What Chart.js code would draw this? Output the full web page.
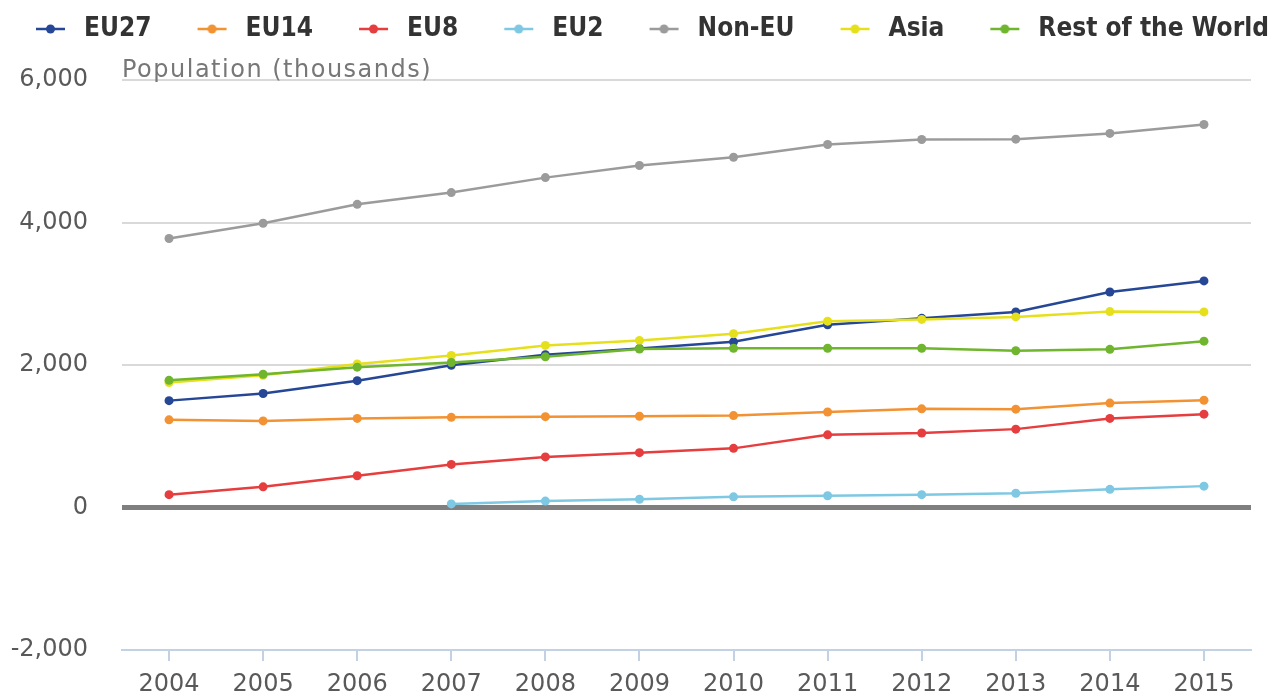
<!DOCTYPE html>
<html>
<head>
<meta charset="utf-8">
<script src="https://cdn.jsdelivr.net/npm/chart.js@4.4.1/dist/chart.umd.min.js"></script>
<style>
  html, body { margin: 0; padding: 0; background: #fff; }
  #wrap { width: 1282px; height: 693px; position: relative; }
</style>
</head>
<body>
<div id="wrap"><canvas id="chart"></canvas></div>
<script>
// years on the x axis
const years = ['2004','2005','2006','2007','2008','2009','2010','2011','2012','2013','2014','2015'];
// population, thousands
const eu27  = [1500, 1600, 1780, 1995, 2145, 2230, 2325, 2565, 2655, 2745, 3025, 3180];
const eu14  = [1230, 1215, 1250, 1265, 1275, 1280, 1290, 1340, 1385, 1380, 1465, 1505];
const eu8   = [180, 290, 445, 605, 710, 770, 830, 1020, 1045, 1100, 1250, 1310];
const eu2   = [null, null, null, 50, 90, 115, 150, 165, 180, 200, 255, 300];
const nonEu = [3775, 3990, 4255, 4420, 4630, 4800, 4915, 5095, 5165, 5170, 5250, 5375];
const asia  = [1755, 1855, 2015, 2135, 2275, 2345, 2440, 2615, 2640, 2675, 2750, 2745];
const rest  = [1785, 1870, 1970, 2035, 2115, 2225, 2235, 2235, 2235, 2200, 2220, 2335];

const seriesNames = ['EU27', 'EU14', 'EU8', 'EU2', 'Non-EU', 'Asia', 'Rest of the World'];
const seriesData = [eu27, eu14, eu8, eu2, nonEu, asia, rest];
const seriesColors = ['#264796', '#f39232', '#e63e3e', '#7ec8e3', '#9b9b9b', '#e6e01c', '#6fb52e'];

const yTicks = [-2000, 0, 2000, 4000, 6000];

// legend marker: short line with a dot, right part of the box
function marker(color) {
  const c = document.createElement('canvas');
  c.width = 81; c.height = 14;
  const g = c.getContext('2d');
  g.strokeStyle = color;
  g.lineWidth = 2.5;
  g.beginPath(); g.moveTo(46, 7); g.lineTo(75, 7); g.stroke();
  g.fillStyle = color;
  g.beginPath(); g.arc(60.5, 7, 4.5, 0, Math.PI * 2); g.fill();
  return c;
}

const datasets = seriesNames.map(function(name, i) {
  return {
    label: name,
    data: seriesData[i],
    borderColor: seriesColors[i],
    backgroundColor: seriesColors[i],
    borderWidth: 2.5,
    pointRadius: 4.5,
    pointBorderWidth: 0,
    pointHoverRadius: 4.5,
    tension: 0,
    spanGaps: false,
    order: seriesNames.length - i
  };
});

// extra room under the legend
const legendSpace = {
  id: 'legendSpace',
  beforeInit(chart) {
    const fit = chart.legend.fit;
    chart.legend.fit = function() {
      fit.call(this);
      this.height += 28;
    };
  }
};

// unit label above the plot
const unitLabel = {
  id: 'unitLabel',
  afterDraw(chart) {
    const ctx = chart.ctx;
    const a = chart.chartArea;
    ctx.save();
    ctx.font = '24px "DejaVu Sans"';
    ctx.letterSpacing = '1.5px';
    ctx.fillStyle = '#777777';
    ctx.textAlign = 'left';
    ctx.textBaseline = 'alphabetic';
    ctx.fillText('Population (thousands)', a.left, a.top - 3);
    ctx.restore();
  }
};

const tickFont = { family: '"DejaVu Sans"', size: 24 };

new Chart(document.getElementById('chart'), {
  type: 'line',
  data: { labels: years, datasets: datasets },
  options: {
    responsive: true,
    maintainAspectRatio: false,
    animation: false,
    layout: { autoPadding: false, padding: { top: 16, left: -10, right: 0, bottom: 0 } },
    plugins: {
      tooltip: { enabled: false },
      legend: {
        position: 'top',
        align: 'start',
        labels: {
          usePointStyle: true,
          pointStyleWidth: 81,
          padding: 0,
          font: { family: '"DejaVu Sans Condensed"', size: 26, weight: 'bold' },
          color: '#333333',
          generateLabels: function(chart) {
            return chart.data.datasets.map(function(ds, i) {
              return {
                text: ds.label,
                pointStyle: marker(ds.borderColor),
                datasetIndex: i,
                hidden: false,
                fontColor: '#333333',
                fillStyle: 'rgba(0,0,0,0)',
                strokeStyle: 'rgba(0,0,0,0)',
                lineWidth: 0
              };
            });
          }
        }
      }
    },
    scales: {
      x: {
        offset: true,
        afterFit(scale) { scale.height = 43; },
        grid: {
          display: true,
          offset: false,
          drawOnChartArea: false,
          drawTicks: true,
          tickLength: 11,
          color: '#c3d1e5',
          lineWidth: 2
        },
        border: { display: true, color: '#c3d1e5', width: 2 },
        ticks: { font: tickFont, color: '#595959', padding: 9, maxRotation: 0 }
      },
      y: {
        min: -2000,
        max: 6000,
        afterFit(scale) {
          scale.width = 132;
          scale.paddingTop = 14;
          scale.paddingBottom = 14;
        },
        afterBuildTicks(scale) { scale.ticks = yTicks.map(v => ({ value: v })); },
        grid: {
          drawTicks: false,
          color: ctx => ctx.tick.value === 0 ? '#7f7f7f' : (ctx.tick.value === -2000 ? 'rgba(0,0,0,0)' : '#d9d9d9'),
          lineWidth: ctx => ctx.tick.value === 0 ? 5 : 2
        },
        border: { display: false },
        ticks: {
          font: tickFont,
          color: '#595959',
          padding: 34,
          callback: v => v.toLocaleString('en-US')
        }
      },
      yRight: {
        position: 'right',
        display: true,
        afterFit(scale) { scale.width = 31; },
        grid: { display: false },
        border: { display: false },
        ticks: { display: false }
      }
    }
  },
  plugins: [legendSpace, unitLabel]
});
</script>
</body>
</html>
